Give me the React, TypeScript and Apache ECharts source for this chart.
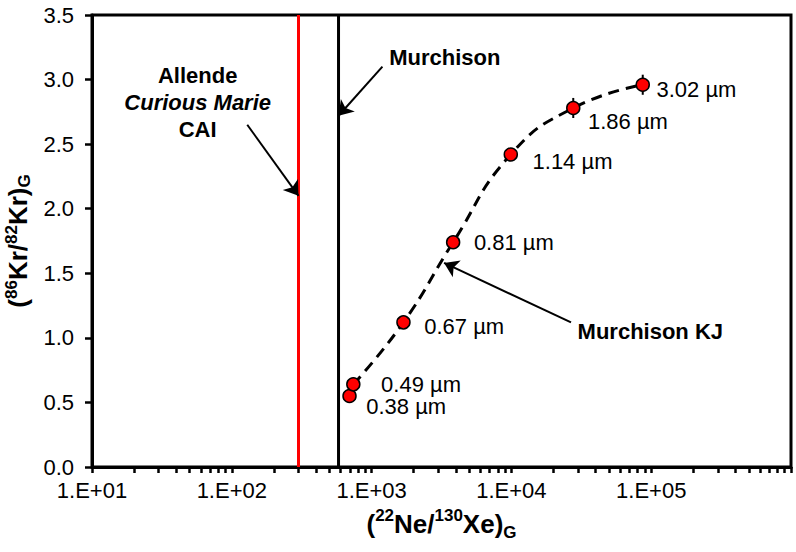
import React, { useEffect, useRef } from 'react';
import * as echarts from 'echarts';

// ---- data ----
const grainSizes = ['0.38 µm', '0.49 µm', '0.67 µm', '0.81 µm', '1.14 µm', '1.86 µm', '3.02 µm'];
const neXe = [695, 740, 1690, 3830, 9900, 27700, 87000];
const krKr = [0.55, 0.64, 1.12, 1.74, 2.42, 2.78, 2.96];
const krErr = [0.02, 0.02, 0.03, 0.03, 0.04, 0.07, 0.07];

const allendeNeXe = 300;
const murchisonNeXe = 580;

const xLabelTicks = [10, 100, 1000, 10000, 100000];
const xDecades = [10, 100, 1000, 10000, 100000];
const xMultipliers = [1, 2, 3, 4, 5, 6, 7, 8, 9];
const yTicks = [0, 0.5, 1, 1.5, 2, 2.5, 3, 3.5];

// annotation arrows (from -> to, data coords)
const arrowFrom = [[129, 2.65], [1195, 3.1], [26700, 1.12]];
const arrowTo = [[300, 2.1], [580, 2.72], [3300, 1.58]];

// label offsets for grain-size labels (px, style only)
const labelDx = [16, 27, 20, 20, 21, 14, 13];
const labelDy = [11, 0, 4, 0, 7, 14, 5];

const FONT = 'Liberation Sans, Arial, Helvetica, sans-serif';

const titleRich = {
  sup: { fontSize: 17, fontWeight: 'bold', fontFamily: FONT, color: '#000', verticalAlign: 'top', lineHeight: 17 },
  sub: { fontSize: 17, fontWeight: 'bold', fontFamily: FONT, color: '#000', verticalAlign: 'bottom', lineHeight: 17 },
};

export default function App() {
  const ref = useRef<HTMLDivElement>(null);
  useEffect(() => {
    if (!ref.current) return;
    const chart = echarts.init(ref.current, undefined, { renderer: 'svg' });
    const allTicks: number[] = [];
    xDecades.forEach((d) => xMultipliers.forEach((m) => allTicks.push(m * d)));
    allTicks.push(1000000);

    const symbolSize = 13;
    const pointData = neXe.map((x, i) => ({
      value: [x, krKr[i]],
      name: grainSizes[i],
      label: {
        show: true,
        position: 'right' as const,
        distance: 0,
        offset: [labelDx[i] - symbolSize / 2, labelDy[i]],
        formatter: grainSizes[i],
        fontSize: 22,
        fontFamily: FONT,
        color: '#000',
      },
    }));

    const option: any = {
      animation: false,
      backgroundColor: '#fff',
      grid: {
        left: 92,
        right: 5,
        top: 15,
        bottom: 85,
        containLabel: false,
        outerBoundsMode: 'none',
        show: true,
        borderColor: '#000',
        borderWidth: 3,
        backgroundColor: 'transparent',
      },
      xAxis: {
        type: 'log',
        logBase: 10,
        min: 10,
        max: 1000000,
        name: '({sup|22}Ne/{sup|130}Xe){sub|G}',
        nameLocation: 'middle',
        nameGap: 40,
        nameTextStyle: {
          fontSize: 26,
          fontWeight: 'bold',
          fontFamily: FONT,
          color: '#000',
          lineHeight: 34,
          rich: titleRich,
        },
        axisLine: { show: true, lineStyle: { color: '#000', width: 3 } },
        axisTick: {
          show: true,
          inside: false,
          length: 6,
          customValues: allTicks,
          lineStyle: { color: '#000', width: 2.5 },
        },
        minorTick: { show: false },
        splitLine: { show: false },
        axisLabel: {
          customValues: xLabelTicks,
          fontSize: 22,
          fontFamily: FONT,
          color: '#000',
          margin: 12,
          formatter: (v: number) => '1.E+' + String(Math.round(Math.log10(v))).padStart(2, '0'),
        },
      },
      yAxis: {
        type: 'value',
        min: 0,
        max: 3.5,
        interval: 0.5,
        name: '({sup|86}Kr/{sup|82}Kr){sub|G}',
        nameLocation: 'middle',
        nameGap: 50,
        nameRotate: 90,
        nameTextStyle: {
          fontSize: 26,
          fontWeight: 'bold',
          fontFamily: FONT,
          color: '#000',
          lineHeight: 30,
          rich: titleRich,
        },
        axisLine: { show: true, lineStyle: { color: '#000', width: 3 } },
        axisTick: { show: true, inside: false, length: 7, lineStyle: { color: '#000', width: 2.5 } },
        splitLine: { show: false },
        axisLabel: {
          fontSize: 22,
          fontFamily: FONT,
          color: '#000',
          margin: 18,
          formatter: (v: number) => v.toFixed(1),
        },
      },
      series: [
        {
          name: 'Allende',
          type: 'line',
          data: [[allendeNeXe, yTicks[0]], [allendeNeXe, yTicks[yTicks.length - 1]]],
          symbol: 'none',
          lineStyle: { color: '#ff0000', width: 3 },
          silent: true,
          z: 2,
          markLine: {
            silent: true,
            symbol: ['none', 'arrow'],
            symbolSize: 14,
            label: { show: false },
            lineStyle: { color: '#000', width: 2, type: 'solid', opacity: 1 },
            itemStyle: { color: '#000' },
            data: arrowFrom.map((f, i) => [{ coord: f }, { coord: arrowTo[i] }]),
          },
        },
        {
          name: 'Murchison',
          type: 'line',
          data: [[murchisonNeXe, yTicks[0]], [murchisonNeXe, yTicks[yTicks.length - 1]]],
          symbol: 'none',
          lineStyle: { color: '#000', width: 3 },
          silent: true,
          z: 2,
        },
        {
          name: 'Murchison KJ curve',
          type: 'line',
          data: neXe.slice(1).map((x, i) => [x, krKr[i + 1]]),
          symbol: 'none',
          smooth: 0.5,
          lineStyle: { color: '#000', width: 3, type: [11, 7] },
          silent: true,
          z: 3,
        },
        {
          name: 'errors',
          type: 'custom',
          data: neXe.map((x, i) => [x, krKr[i], krErr[i]]),
          renderItem: (params: any, api: any) => {
            const x = api.value(0);
            const y = api.value(1);
            const e = api.value(2);
            const top = api.coord([x, y + e]);
            const bot = api.coord([x, y - e]);
            return {
              type: 'line',
              shape: { x1: top[0], y1: top[1] - 1, x2: bot[0], y2: bot[1] + 1 },
              style: { stroke: '#000', lineWidth: 2 },
            };
          },
          silent: true,
          z: 4,
        },
        {
          name: 'Murchison KJ',
          type: 'scatter',
          data: pointData,
          symbol: 'circle',
          symbolSize,
          itemStyle: { color: '#ff0000', borderColor: '#000', borderWidth: 1.5, opacity: 1 },
          silent: true,
          z: 5,
        },
        {
          name: 'annotations',
          type: 'scatter',
          symbolSize: 1,
          itemStyle: { color: 'rgba(0,0,0,0)', opacity: 1 },
          silent: true,
          z: 6,
          data: [
            {
              value: [57, 2.82],
              label: {
                show: true,
                position: 'inside',
                align: 'center',
                verticalAlign: 'middle',
                formatter: '{b|Allende}\n{i|Curious Marie}\n{b|CAI}',
                rich: {
                  b: { fontSize: 22, fontWeight: 'bold', fontFamily: FONT, color: '#000', lineHeight: 27, align: 'center' },
                  i: { fontSize: 22, fontWeight: 'bold', fontStyle: 'italic', fontFamily: FONT, color: '#000', lineHeight: 27, align: 'center' },
                },
              },
            },
            {
              value: [1324, 3.168],
              label: {
                show: true,
                position: 'right',
                distance: 0,
                formatter: 'Murchison',
                fontSize: 22,
                fontWeight: 'bold',
                fontFamily: FONT,
                color: '#000',
              },
            },
            {
              value: [29500, 1.046],
              label: {
                show: true,
                position: 'right',
                distance: 0,
                formatter: 'Murchison KJ',
                fontSize: 22,
                fontWeight: 'bold',
                fontFamily: FONT,
                color: '#000',
              },
            },
          ],
        },
      ],
    };
    chart.setOption(option);
    return () => chart.dispose();
  }, []);
  return (
    <div
      ref={ref}
      style={{ position: 'absolute', left: 0, top: 0, width: 796, height: 552, background: '#fff' }}
    />
  );
}
